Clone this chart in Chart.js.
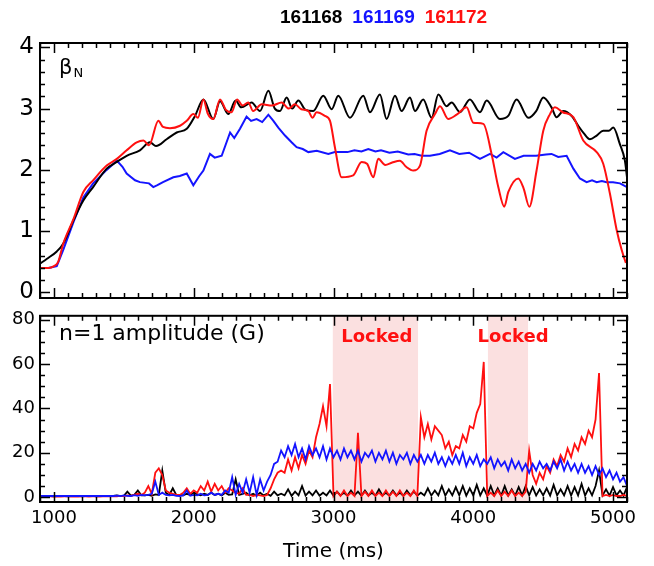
<!DOCTYPE html>
<html>
<head>
<meta charset="utf-8">
<title>βN and n=1 amplitude</title>
<script src="https://cdn.jsdelivr.net/npm/chart.js@4.4.1/dist/chart.umd.min.js"></script>
<style>
  body { margin: 0; background: #fff; }
  #wrap { position: relative; width: 654px; height: 566px; overflow: hidden; }
  canvas { position: absolute; left: 0; }
  #cTop { top: 0; }
  #cBot { top: 300px; }
</style>
</head>
<body>
<div id="wrap">
  <canvas id="cTop" width="654" height="330"></canvas>
  <canvas id="cBot" width="654" height="266"></canvas>
</div>
<script>
// shots shown in both panels
const shotNames = ['161168', '161169', '161172'];

// tick labels
const xTickVals = [1000, 2000, 3000, 4000, 5000];
const betaTickVals = [0, 1, 2, 3, 4];
const ampTickVals = [0, 20, 40, 60, 80];

// top panel: beta_N (time in ms)
const betaTime168 = [900,950,1020,1067,1140,1210,1280,1377,1450,1520,1615,1687,1730,1806,1878,1950,2009,2069,2140,2188,2247,2300,2340,2414,2474,2534,2580,2617,2665,2705,2748,2800,2855,2927,2987,3034,3118,3213,3261,3332,3380,3440,3487,3547,3583,3642,3702,3750,3809,3845,3905,3976,4048,4096,4191,4250,4310,4394,4450,4501,4560,4596,4644,4704,4751,4790,4835,4883,4930,4970,5002,5049,5085,5100];
const beta168 = [0.47,0.55,0.67,0.80,1.18,1.50,1.72,2.02,2.13,2.23,2.32,2.45,2.39,2.50,2.61,2.67,2.88,3.15,2.83,3.12,2.91,3.13,3.02,3.10,2.96,3.29,3.00,2.96,3.18,3.00,3.13,2.98,2.96,3.21,2.99,3.21,2.85,3.21,2.94,3.23,2.83,3.21,2.96,3.18,2.96,3.15,2.85,3.23,3.04,3.10,2.94,3.15,2.94,3.13,2.83,2.88,3.15,2.85,2.96,3.18,3.02,2.86,2.96,2.88,2.72,2.60,2.50,2.56,2.64,2.64,2.69,2.42,2.15,1.88];

const betaTime169 = [900,960,1020,1067,1140,1210,1280,1377,1450,1490,1520,1580,1615,1680,1711,1740,1780,1854,1900,1950,1997,2040,2069,2116,2150,2200,2260,2290,2331,2378,2410,2450,2490,2534,2570,2605,2653,2700,2736,2780,2820,2880,2963,3010,3100,3150,3200,3249,3300,3340,3400,3460,3535,3580,3631,3690,3760,3833,3900,3970,4048,4120,4167,4215,4298,4360,4450,4520,4560,4608,4668,4716,4763,4811,4850,4883,4920,4954,5000,5050,5100];
const beta169 = [0.40,0.40,0.43,0.70,1.15,1.55,1.78,2.00,2.15,2.05,1.94,1.83,1.80,1.78,1.72,1.75,1.80,1.88,1.90,1.94,1.75,1.90,1.99,2.26,2.20,2.23,2.61,2.52,2.67,2.87,2.80,2.83,2.78,2.90,2.80,2.69,2.56,2.45,2.37,2.34,2.29,2.31,2.26,2.29,2.29,2.32,2.30,2.34,2.30,2.32,2.28,2.30,2.25,2.26,2.23,2.23,2.26,2.32,2.26,2.28,2.18,2.26,2.20,2.29,2.18,2.23,2.23,2.25,2.26,2.21,2.23,2.02,1.86,1.80,1.83,1.80,1.82,1.80,1.80,1.78,1.72];

const betaTime172 = [900,960,1000,1030,1067,1140,1210,1280,1377,1450,1520,1592,1640,1680,1747,1780,1830,1902,1950,1997,2030,2069,2100,2140,2188,2230,2271,2310,2350,2390,2425,2486,2560,2629,2680,2724,2770,2820,2850,2879,2939,2975,3010,3058,3141,3201,3240,3285,3320,3370,3420,3475,3520,3571,3619,3666,3726,3762,3821,3881,3952,4000,4072,4131,4179,4222,4251,4322,4360,4401,4453,4501,4549,4584,4640,4716,4787,4883,4930,4978,5026,5061,5092];
const beta172 = [0.40,0.40,0.43,0.50,0.80,1.20,1.64,1.83,2.07,2.18,2.32,2.45,2.48,2.40,2.80,2.70,2.68,2.72,2.80,2.91,2.85,3.15,2.92,2.83,3.15,2.98,2.94,3.15,3.05,3.10,2.96,3.07,3.05,3.10,3.00,3.07,2.99,2.96,2.85,2.94,2.88,2.80,2.37,1.88,1.91,2.13,2.10,1.88,2.18,2.08,2.12,2.15,2.05,1.99,2.07,2.64,2.91,3.04,2.83,2.90,3.02,2.77,2.75,2.26,1.72,1.40,1.64,1.86,1.70,1.40,1.99,2.64,2.91,3.02,2.94,2.86,2.48,2.29,2.10,1.61,1.02,0.70,0.48];

// bottom panel: n=1 amplitude (G), sampled every 25 ms
const ampTime = [
  900,925,950,975,1000,1025,1050,1075,1100,1125,
  1150,1175,1200,1225,1250,1275,1300,1325,1350,1375,
  1400,1425,1450,1475,1500,1525,1550,1575,1600,1625,
  1650,1675,1700,1725,1750,1775,1800,1825,1850,1875,
  1900,1925,1950,1975,2000,2025,2050,2075,2100,2125,
  2150,2175,2200,2225,2250,2275,2300,2325,2350,2375,
  2400,2425,2450,2475,2500,2525,2550,2575,2600,2625,
  2650,2675,2700,2725,2750,2775,2800,2825,2850,2875,
  2900,2925,2950,2975,3000,3025,3050,3075,3100,3125,
  3150,3175,3200,3225,3250,3275,3300,3325,3350,3375,
  3400,3425,3450,3475,3500,3525,3550,3575,3600,3625,
  3650,3675,3700,3725,3750,3775,3800,3825,3850,3875,
  3900,3925,3950,3975,4000,4025,4050,4075,4100,4125,
  4150,4175,4200,4225,4250,4275,4300,4325,4350,4375,
  4400,4425,4450,4475,4500,4525,4550,4575,4600,4625,
  4650,4675,4700,4725,4750,4775,4800,4825,4850,4875,
  4900,4925,4950,4975,5000,5025,5050,5075,5100
];
const amp168 = [
  0.5,0.4,0.6,0.5,0.4,0.5,0.6,0.5,0.4,0.5,
  0.5,0.6,0.4,0.5,0.5,0.6,0.4,0.5,0.6,0.5,
  0.5,0.6,0.8,0.5,0.6,2.5,0.7,1.0,3.0,0.8,
  0.8,1.0,0.6,1.2,1.0,12,2.0,1.0,4.0,1.0,
  1.0,0.8,1.5,1.0,2.0,1.2,0.8,1.5,1.0,2.0,
  1.0,1.5,0.8,2.0,1.0,1.2,8.0,1.0,1.5,2.0,
  0.8,1.5,0.6,2.0,0.8,1.5,0.6,2.5,0.8,1.5,
  0.8,3.5,0.6,2.5,0.8,5.0,0.7,2.5,0.8,3.0,
  0.7,2.0,0.8,3.0,0.6,2.5,0.8,2.0,0.7,3.0,
  0.8,2.5,0.6,3.0,0.8,2.0,0.7,3.5,0.8,2.0,
  0.7,3.0,0.8,2.0,0.6,3.0,0.8,2.5,0.7,2.0,
  0.8,4.0,0.7,3.0,0.8,5.0,0.7,3.5,0.8,4.5,
  0.8,5.0,0.7,4.0,0.8,5.5,0.8,4.0,0.7,5.0,
  0.8,4.0,0.7,5.0,0.8,3.5,0.7,4.5,0.8,5.0,
  0.8,4.5,0.7,3.5,0.8,4.0,0.7,5.5,0.8,3.5,
  0.8,5.0,0.7,4.5,0.8,6.0,0.7,4.0,0.8,5.0,
  12,0.8,3.5,0.7,4.5,0.8,3.0,0.7,4.5
];
const amp169 = [
  0.6,0.5,0.6,0.5,0.6,0.5,0.6,0.5,0.6,0.5,
  0.6,0.5,0.6,0.5,0.6,0.5,0.6,0.5,0.6,0.5,
  0.6,0.5,0.7,0.5,0.8,0.6,0.5,0.9,0.6,1.0,
  0.8,1.0,1.5,7.0,1.0,2.0,1.0,0.8,1.0,0.6,
  0.5,0.8,3.0,0.6,1.0,0.8,1.5,0.8,1.0,2.0,
  1.0,1.5,1.0,3.0,2.0,9.0,1.0,6.0,2.0,8.0,
  2.0,9.0,1.0,8.0,3.0,7.0,10,15,16,21,
  18,23,19,24,18,22,17,23,19,22,
  18,23,17,22,18,21,17,22,18,21,
  17,21,16,20,18,21,16,20,17,21,
  16,20,15,19,17,20,15,19,16,19,
  15,19,16,20,15,18,14,18,15,19,
  15,20,14,18,15,19,14,17,15,18,
  13,17,14,16,12,17,13,16,12,15,
  11,15,12,16,13,15,12,16,13,17,
  12,16,12,15,11,15,11,14,10,14,
  10,13,9,12,8,11,7,9,5
];
const amp172 = [
  0.3,0.2,0.3,0.3,0.2,0.3,0.2,0.3,0.3,0.2,
  0.3,0.2,0.3,0.3,0.2,0.3,0.3,0.2,0.3,0.3,
  0.4,0.5,0.4,0.6,0.5,0.8,0.6,1.0,1.5,1.0,
  2.0,5.0,1.5,11,13,10,3.0,2.0,1.5,1.0,
  1.0,2.0,4.0,1.5,3.0,2.0,5.0,3.0,7.0,2.5,
  6.0,3.0,5.0,2.0,4.0,3.0,2.0,1.5,4.0,1.0,
  1.0,0.5,1.0,0.8,0.5,1.0,4.0,8.0,11,12,
  11,17,12,18,13,19,15,21,18,27,
  33,41,32,51,0.5,2.5,0.5,3.0,0.5,2.0,
  0.5,29,0.5,2.5,0.5,3.0,0.5,2.0,0.5,3.0,
  0.5,2.5,0.5,3.0,0.5,2.0,0.5,3.0,0.5,36,
  27,33,26,32,30,28,22,25,19,23,
  22,28,25,32,31,38,42,61,0.5,2.0,
  0.5,3.0,0.5,2.5,0.5,3.0,0.5,2.0,0.5,2.5,
  21,10,6,11,8,14,11,17,14,19,
  16,22,18,24,21,27,24,30,27,35,
  56,0.5,1.0,0.5,1.0,0.5,0.5,1.0,0.5
];

// locked-mode windows (ms)
const lockStart = [2995, 4105];
const lockEnd = [3605, 4392];
const lockLabelTime = [3310, 4285];

const FONT = 'DejaVu Sans';

function line(times, vals, color, width, smooth) {
  return {
    data: times.map((t, i) => ({ x: t, y: vals[i] })),
    borderColor: color,
    borderWidth: width,
    pointRadius: 0,
    tension: smooth ? 0.4 : 0,
    cubicInterpolationMode: smooth ? 'monotone' : 'default',
    fill: false
  };
}

// frame with inward major/minor ticks on all four sides
const boxTicks = {
  id: 'boxTicks',
  afterDatasetsDraw(chart, args, o) {
    const { ctx, chartArea: a, scales: { x, y } } = chart;
    ctx.save();
    ctx.strokeStyle = '#000';
    ctx.lineWidth = 1.5;
    ctx.beginPath();
    for (let k = Math.ceil(x.min / o.xMinor); k * o.xMinor <= x.max; k++) {
      const v = k * o.xMinor;
      const len = o.xMajor.includes(v) ? 10 : 5;
      const px = Math.round(x.getPixelForValue(v)) + 0.5;
      ctx.moveTo(px, a.bottom); ctx.lineTo(px, a.bottom - len);
      ctx.moveTo(px, a.top); ctx.lineTo(px, a.top + len);
    }
    for (let k = Math.ceil(o.yFrom / o.yMinor - 1e-6); k * o.yMinor <= y.max + 1e-6; k++) {
      const v = Math.round(k * o.yMinor * 1000) / 1000;
      const len = o.yMajor.includes(v) ? 10 : 5;
      const py = Math.round(y.getPixelForValue(v)) + 0.5;
      ctx.moveTo(a.left, py); ctx.lineTo(a.left + len, py);
      ctx.moveTo(a.right, py); ctx.lineTo(a.right - len, py);
    }
    ctx.stroke();
    ctx.lineWidth = 2;
    ctx.strokeRect(a.left, a.top, a.right - a.left, a.bottom - a.top);
    ctx.restore();
  }
};

const topLabels = {
  id: 'topLabels',
  afterDraw(chart) {
    const { ctx, chartArea: a } = chart;
    const colors = ['#000000', '#1414ff', '#ff1010'];
    ctx.save();
    ctx.font = 'bold 19px "Liberation Sans"';
    let lx = 280;
    shotNames.forEach((n, i) => {
      ctx.fillStyle = colors[i];
      ctx.fillText(n, lx, 23);
      lx += ctx.measureText(n).width + 10;
    });
    ctx.fillStyle = '#000';
    ctx.font = '21px "' + FONT + '"';
    ctx.fillText('β', a.left + 19, a.top + 31);
    const bw = ctx.measureText('β').width;
    ctx.font = '13px "' + FONT + '"';
    ctx.fillText('N', a.left + 20 + bw, a.top + 34);
    ctx.restore();
  }
};

const botLabels = {
  id: 'botLabels',
  beforeDatasetsDraw(chart) {
    const { ctx, chartArea: a, scales: { x } } = chart;
    ctx.save();
    ctx.fillStyle = '#fbe0e0';
    lockStart.forEach((s, i) => {
      const x0 = x.getPixelForValue(s), x1 = x.getPixelForValue(lockEnd[i]);
      ctx.fillRect(x0, a.top, x1 - x0, a.bottom - a.top);
    });
    ctx.restore();
  },
  afterDraw(chart) {
    const { ctx, chartArea: a, scales: { x } } = chart;
    ctx.save();
    ctx.fillStyle = '#000';
    ctx.font = '22px "' + FONT + '"';
    ctx.fillText('n=1 amplitude (G)', a.left + 19, a.top + 24);
    ctx.fillStyle = '#ff1010';
    ctx.font = 'bold 18px "' + FONT + '"';
    ctx.textAlign = 'center';
    lockLabelTime.forEach(t => ctx.fillText('Locked', x.getPixelForValue(t), a.top + 26));
    ctx.restore();
  }
};

const baseOpts = {
  responsive: false,
  animation: false,
  events: [],
  plugins: { legend: { display: false }, tooltip: { enabled: false } }
};

new Chart(document.getElementById('cTop'), {
  type: 'line',
  data: {
    datasets: [
      line(betaTime172, beta172, '#ff1010', 2, true),
      line(betaTime168, beta168, '#000000', 2, true),
      line(betaTime169, beta169, '#1414ff', 2, false)
    ]
  },
  options: {
    ...baseOpts,
    layout: { padding: { left: 0, right: 27, top: 43, bottom: 32 } },
    plugins: {
      ...baseOpts.plugins,
      boxTicks: { xMinor: 100, xMajor: xTickVals, yMinor: 0.2, yFrom: 0, yMajor: betaTickVals }
    },
    scales: {
      x: { type: 'linear', min: 900, max: 5100, display: false },
      y: {
        min: -0.09, max: 4.07,
        afterFit: s => { s.width = 40; },
        afterBuildTicks: s => { s.ticks = betaTickVals.map(v => ({ value: v })); },
        grid: { display: false, drawTicks: false },
        border: { display: false },
        ticks: { font: { family: FONT, size: 23 }, color: '#000', padding: 6 }
      }
    }
  },
  plugins: [boxTicks, topLabels]
});

new Chart(document.getElementById('cBot'), {
  type: 'line',
  data: {
    datasets: [
      line(ampTime, amp169, '#1414ff', 1.8, false),
      line(ampTime, amp172, '#ff1010', 1.8, false),
      line(ampTime, amp168, '#000000', 1.8, false)
    ]
  },
  options: {
    ...baseOpts,
    layout: { padding: { left: 0, right: 27, top: 12, bottom: 0 } },
    plugins: {
      ...baseOpts.plugins,
      boxTicks: { xMinor: 100, xMajor: xTickVals, yMinor: 5, yFrom: 0, yMajor: ampTickVals }
    },
    scales: {
      x: {
        type: 'linear', min: 900, max: 5100,
        afterFit: s => { s.height = 64; },
        afterBuildTicks: s => { s.ticks = xTickVals.map(v => ({ value: v })); },
        grid: { display: false, drawTicks: false },
        border: { display: false },
        ticks: { font: { family: FONT, size: 18 }, color: '#000', padding: 6, maxRotation: 0, callback: v => String(v) },
        title: { display: true, text: 'Time (ms)', font: { family: FONT, size: 20 }, color: '#000', padding: { top: 0, bottom: 2 } }
      },
      y: {
        min: -2.2, max: 81.8,
        afterFit: s => { s.width = 40; },
        afterBuildTicks: s => { s.ticks = ampTickVals.map(v => ({ value: v })); },
        grid: { display: false, drawTicks: false },
        border: { display: false },
        ticks: { font: { family: FONT, size: 18 }, color: '#000', padding: 5 }
      }
    }
  },
  plugins: [boxTicks, botLabels]
});
</script>
</body>
</html>
